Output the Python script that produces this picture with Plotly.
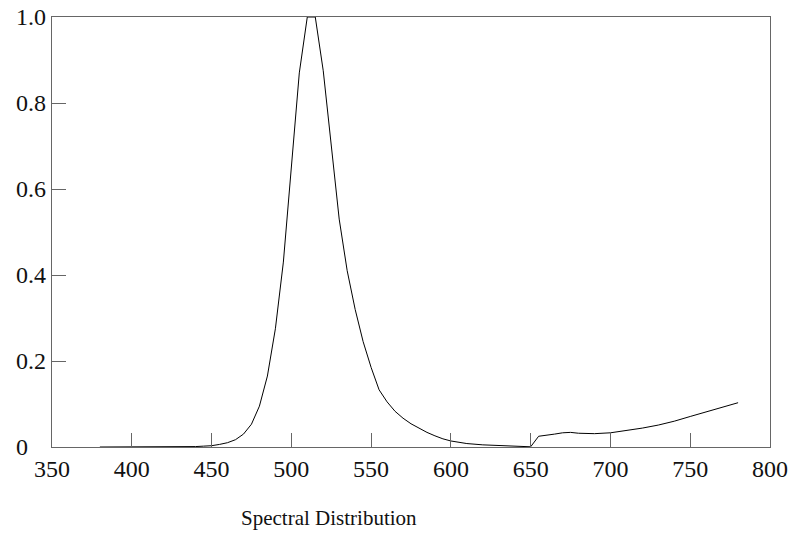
import plotly.graph_objects as go

wavelength = [380, 390, 400, 410, 420, 430, 440, 445, 450, 455, 460, 465, 470, 475,
              480, 485, 490, 495, 500, 505, 510, 515, 520, 525, 530, 535, 540, 545,
              550, 555, 560, 565, 570, 575, 580, 585, 590, 595, 600, 610, 620, 630,
              640, 650, 655, 660, 665, 670, 675, 680, 690, 700, 710, 720, 730, 740,
              750, 760, 770, 780]
intensity = [0.0, 0.0, 0.0, 0.0, 0.0, 0.0005, 0.001, 0.002, 0.003, 0.006, 0.010, 0.017,
             0.030, 0.053, 0.095, 0.165, 0.275, 0.43, 0.645, 0.870, 1.0, 1.0, 0.875,
             0.70, 0.53, 0.41, 0.32, 0.245, 0.185, 0.133, 0.105, 0.083, 0.067, 0.054,
             0.043, 0.034, 0.026, 0.019, 0.014, 0.008, 0.005, 0.003, 0.0015, 0.0005,
             0.025, 0.027, 0.030, 0.033, 0.034, 0.032, 0.031, 0.033, 0.038, 0.044,
             0.051, 0.060, 0.071, 0.082, 0.092, 0.103]

x_ticks = [350, 400, 450, 500, 550, 600, 650, 700, 750, 800]
y_ticks = [0, 0.2, 0.4, 0.6, 0.8, 1.0]
y_ticktext = ["0\u00a0\u00a0\u00a0", "0.2", "0.4", "0.6", "0.8", "1.0"]
title_text = "Spectral Distribution"

fig = go.Figure()
fig.add_trace(go.Scatter(x=wavelength, y=intensity, mode="lines",
                         line=dict(color="black", width=1), showlegend=False,
                         cliponaxis=False))

axis_common = dict(showgrid=False, zeroline=False, showline=True, mirror=True,
                   linecolor="#666666", linewidth=1.2, ticks="inside", ticklen=14,
                   tickcolor="#666666", tickwidth=1.2, automargin=False,
                   ticklabeloverflow="allow",
                   tickfont=dict(family="Liberation Serif", size=24, color="#111111"))

fig.update_xaxes(range=[350, 800], tickvals=x_ticks, **axis_common)
fig.update_yaxes(range=[0, 1.0], tickvals=y_ticks, ticktext=y_ticktext, **axis_common)

fig.add_annotation(text=title_text, xref="paper", yref="paper", x=0.386, y=-0.165,
                   showarrow=False, xanchor="center", yanchor="middle",
                   font=dict(family="Liberation Serif", size=21, color="#111111"))

fig.update_layout(width=794, height=535, plot_bgcolor="white", paper_bgcolor="white",
                  margin=dict(l=52, r=24, t=17, b=88))

fig.write_html("out.html", config={"displayModeBar": False},
               post_script="document.body.style.margin='0px';")
